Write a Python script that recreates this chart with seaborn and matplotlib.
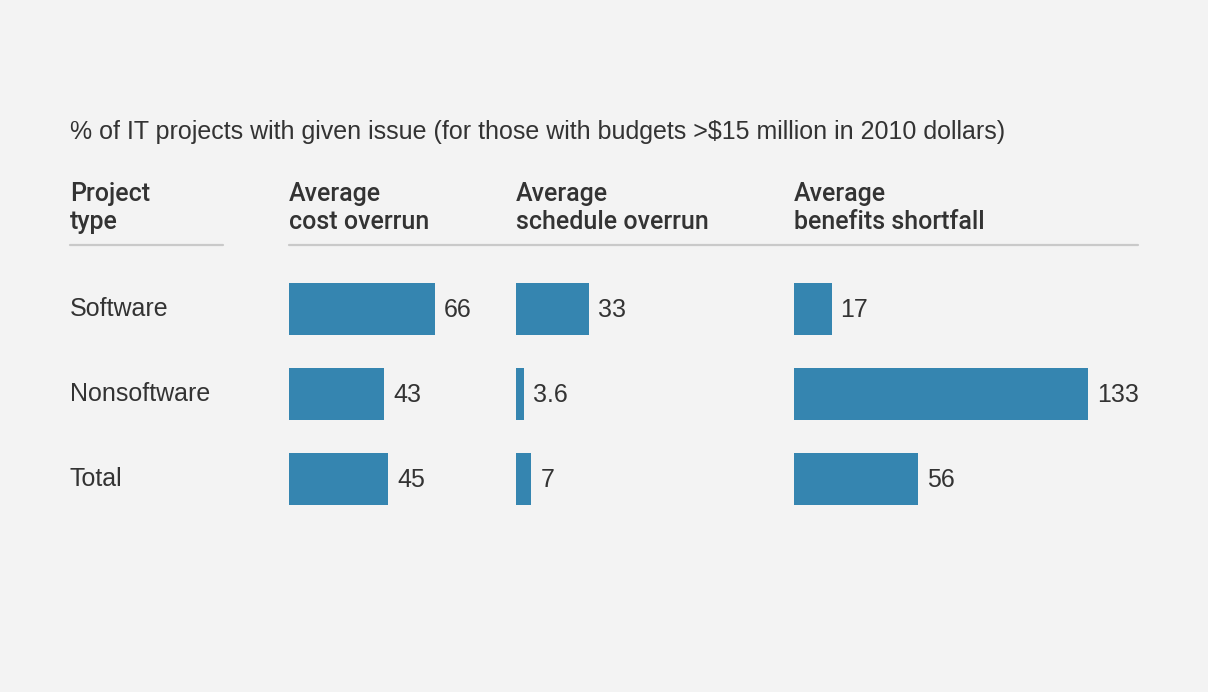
import matplotlib
matplotlib.use("Agg")
import matplotlib.pyplot as plt
from matplotlib.lines import Line2D
import seaborn as sns
import pandas as pd

# ---- data ----
project_types = ["Software", "Nonsoftware", "Total"]
cost_overrun = [66, 43, 45]
schedule_overrun = [33, 3.6, 7]
benefits_shortfall = [17, 133, 56]
metric_headers = ["Average\ncost overrun", "Average\nschedule overrun", "Average\nbenefits shortfall"]
type_header = "Project\ntype"
title = "% of IT projects with given issue (for those with budgets >$15 million in 2010 dollars)"

df = pd.DataFrame({
    "type": project_types,
    "cost": cost_overrun,
    "schedule": schedule_overrun,
    "benefits": benefits_shortfall,
})

sns.set_theme(style="white")
plt.rcParams["font.family"] = ["Liberation Sans", "DejaVu Sans"]

W, H = 1208, 692
BG = "#f3f3f3"
BAR = "#3585b0"
TXT = "#333333"
FS = 18
fig = plt.figure(figsize=(W / 100, H / 100), dpi=100, facecolor=BG)

def fx(px):
    return px / W

def fy(py):
    return 1 - py / H

# title
fig.text(fx(70), fy(132), title, fontsize=FS, color=TXT, va="center", ha="left")

# headers
hdr_font = dict(family=["Roboto", "Liberation Sans"], fontweight="medium")
fig.text(fx(70), fy(208), type_header, fontsize=FS, color=TXT, va="center", ha="left",
         linespacing=1.2, **hdr_font)
header_x = [289, 516, 794]
for hx, h in zip(header_x, metric_headers):
    fig.text(fx(hx), fy(208), h, fontsize=FS, color=TXT, va="center", ha="left",
             linespacing=1.2, **hdr_font)

# header rules
fig.add_artist(Line2D([fx(70), fx(223)], [fy(245), fy(245)], color="#c9c9c9", lw=1.6))
fig.add_artist(Line2D([fx(289), fx(1138)], [fy(245), fy(245)], color="#c9c9c9", lw=1.6))

# row labels
row_y = [309, 394, 479]
for ry, lab in zip(row_y, project_types):
    fig.text(fx(70), fy(ry), lab, fontsize=FS, color=TXT, va="center", ha="left")

# bars
scale = 2.21  # px per unit
top, bottom = 266.5, 521.5
panels = [("cost", 289, 100), ("schedule", 516, 100), ("benefits", 794, 155)]
for col, left, xmax in panels:
    ax = fig.add_axes([fx(left), fy(bottom), fx(xmax * scale), (bottom - top) / H])
    ax.set_facecolor("none")
    sns.barplot(data=df, x=col, y="type", orient="h", color=BAR, width=52 / 85,
                saturation=1, linewidth=0, ax=ax)
    ax.set_xlim(0, xmax)
    ax.set_ylim(2.5, -0.5)
    ax.axis("off")
    for i, v in enumerate(df[col]):
        ax.annotate(f"{v:g}", xy=(v, i), xytext=(9, -1), textcoords="offset pixels",
                    va="center", ha="left", fontsize=FS, color=TXT, annotation_clip=False)

fig.savefig("out.png", dpi=100, facecolor=BG)
